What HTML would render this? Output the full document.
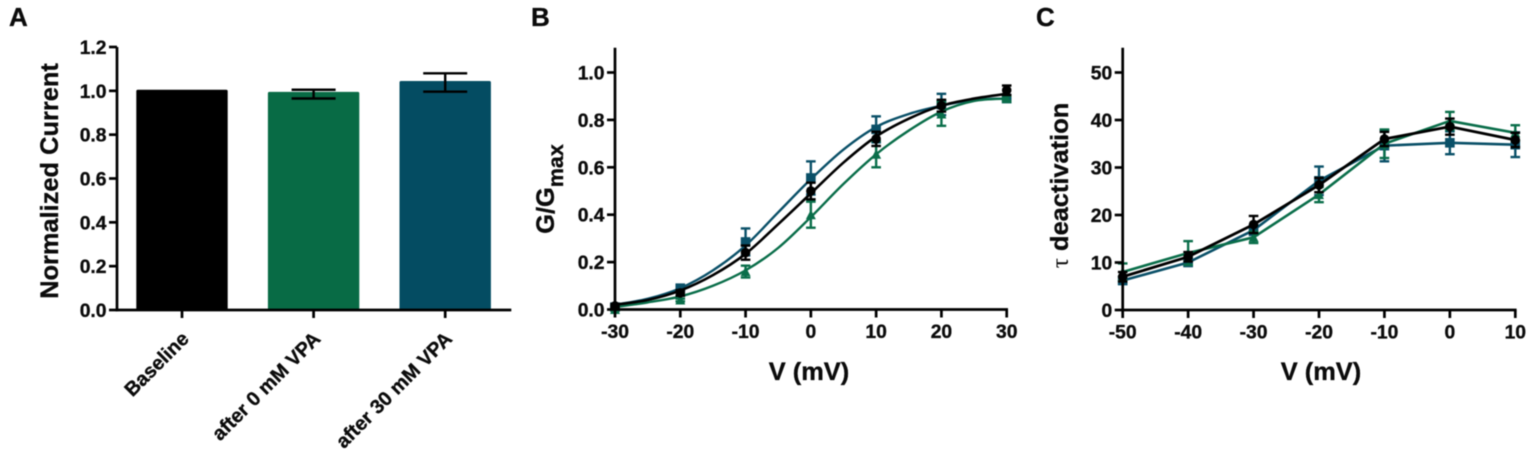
<!DOCTYPE html>
<html lang="en">
<head>
<meta charset="utf-8">
<title>VPA current, conductance and deactivation panels</title>
<style>
html,body{margin:0;padding:0;background:#fff;width:1535px;height:457px;overflow:hidden}
svg{display:block;filter:blur(0.45px)}
text{font-family:"Liberation Sans",Arial,sans-serif;font-weight:bold;fill:#0b0b0b;stroke:#0b0b0b;stroke-width:0.35px}
.tick{font-size:19.3px}
.title{font-size:25.4px}
.letter{font-size:26px}
.cat{font-size:19.8px}
</style>
</head>
<body>
<svg id="fig" xmlns="http://www.w3.org/2000/svg" width="1535" height="457" viewBox="0 0 1535 457">
  <text class="letter" x="9" y="26">A</text>
  <text class="letter" x="531" y="26">B</text>
  <text class="letter" x="1036" y="26">C</text>
  <text class="title" transform="translate(58 181) rotate(-90)" text-anchor="middle">Normalized Current</text>
  <text class="title" transform="translate(554 189) rotate(-90)" text-anchor="middle">G/G<tspan font-size="21.5" dy="9">max</tspan></text>
  <text class="title" x="809" y="380" text-anchor="middle">V (mV)</text>
  <text class="title" transform="translate(1068 185.5) rotate(-90)" text-anchor="middle"><tspan style="font-family:'Liberation Serif','DejaVu Serif',serif;font-weight:normal;stroke-width:0">τ</tspan> deactivation</text>
  <text class="title" x="1321" y="380" text-anchor="middle">V (mV)</text>
</svg>
<script>
// Panel A
const barCategories = ['Baseline', 'after 0 mM VPA', 'after 30 mM VPA'];
const barValues = [1.005, 0.995, 1.045];
const barCenters = [0.985, 0.985, 1.038];
const barErrors = [0, 0.02, 0.042];
const barColors = ['#000000', '#086b45', '#044c62'];
const aTicks = ['0.0', '0.2', '0.4', '0.6', '0.8', '1.0', '1.2'];

// Panel B
const bVoltages = [-30, -20, -10, 0, 10, 20, 30];
const bTicksY = ['0.0', '0.2', '0.4', '0.6', '0.8', '1.0'];
const bBlack = [0.015, 0.07, 0.24, 0.50, 0.72, 0.86, 0.925];
const bBlackErr = [0.008, 0.012, 0.03, 0.035, 0.03, 0.025, 0.02];
const bBlue = [0.01, 0.09, 0.285, 0.555, 0.76, 0.865, 0.89];
const bBlueErr = [0.006, 0.01, 0.057, 0.07, 0.055, 0.045, 0.01];
const bGreen = [0.0, 0.04, 0.16, 0.40, 0.655, 0.825, 0.89];
const bGreenErr = [0.004, 0.006, 0.025, 0.055, 0.055, 0.05, 0.01];
const bFitVoltages = [-30, -25, -20, -15, -10, -5, 0, 5, 10, 15, 20, 25, 30];
const bFitBlack = [0.02, 0.04, 0.08, 0.145, 0.235, 0.36, 0.49, 0.62, 0.73, 0.805, 0.86, 0.89, 0.91];
const bFitBlue = [0.02, 0.045, 0.09, 0.165, 0.27, 0.41, 0.55, 0.675, 0.77, 0.825, 0.86, 0.885, 0.89];
const bFitGreen = [0.01, 0.03, 0.055, 0.10, 0.165, 0.26, 0.39, 0.53, 0.655, 0.755, 0.835, 0.88, 0.89];

// Panel C
const cVoltages = [-50, -40, -30, -20, -10, 0, 10];
const cTicksY = ['0', '10', '20', '30', '40', '50'];
const cBlack = [7, 11.2, 18, 26.3, 36, 38.6, 35.8];
const cBlackErr = [1, 1, 1.8, 1.5, 1.5, 1.7, 1.5];
const cBlue = [6.2, 10, 16.8, 27.2, 34.6, 35.2, 34.8];
const cBlueErr = [0.7, 0.7, 1, 3, 3.3, 2.4, 2.6];
const cGreen = [8, 12, 15.3, 24.3, 35, 39.8, 37.3];
const cGreenErr = [1.8, 2.5, 1.2, 1.6, 3, 1.9, 1.6];

const GREEN = '#0a6e4a';
const BLUE = '#0a5068';
const INK = '#000000';
const NS = 'http://www.w3.org/2000/svg';
const fig = document.getElementById('fig');

function mk(tag, attrs, parent) {
  const el = document.createElementNS(NS, tag);
  for (const k in attrs) el.setAttribute(k, attrs[k]);
  (parent || fig).appendChild(el);
  return el;
}

function seg(x1, y1, x2, y2, w, col, name, parent) {
  const el = mk('line', {x1: x1, y1: y1, x2: x2, y2: y2, stroke: col, 'stroke-width': w}, parent);
  
  
  return el;
}

function label(cls, x, y, anchor, str, name, parent) {
  const el = mk('text', {class: cls, x: x, y: y, 'text-anchor': anchor}, parent);
  el.textContent = str;
  
  
  return el;
}

function group(name) {
  const g = mk('g', {});
  
  
  return g;
}

function smoothPath(pts) {
  let d = 'M' + pts[0][0] + ' ' + pts[0][1];
  for (let i = 0; i < pts.length - 1; i++) {
    const p0 = pts[Math.max(i - 1, 0)], p1 = pts[i], p2 = pts[i + 1], p3 = pts[Math.min(i + 2, pts.length - 1)];
    d += ' C' + (p1[0] + (p2[0] - p0[0]) / 6) + ' ' + (p1[1] + (p2[1] - p0[1]) / 6) + ' ' +
      (p2[0] - (p3[0] - p1[0]) / 6) + ' ' + (p2[1] - (p3[1] - p1[1]) / 6) + ' ' + p2[0] + ' ' + p2[1];
  }
  return d;
}

function marker(shape, x, y, col, name, parent) {
  let el;
  if (shape === 'square') {
    el = mk('rect', {x: x - 4.8, y: y - 4.8, width: 9.6, height: 9.6, fill: col}, parent);
  } else if (shape === 'triangle') {
    el = mk('polygon', {points: (x - 5) + ',' + (y + 4.5) + ' ' + (x + 5) + ',' + (y + 4.5) + ' ' + x + ',' + (y - 5), fill: col}, parent);
  } else {
    el = mk('circle', {cx: x, cy: y, r: 4.8, fill: col}, parent);
  }
  
  
}

function drawSeries(sx, sy, xs, ys, errs, col, shape, seriesName, fitXs, fitYs, lineWidth) {
  const g = group(seriesName);
  const pts = fitXs ? fitXs.map((v, i) => [sx(v), sy(fitYs[i])]) : xs.map((v, i) => [sx(v), sy(ys[i])]);
  const d = fitXs ? smoothPath(pts) : 'M' + pts.map(p => p.join(' ')).join(' L');
  const line = mk('path', {d: d, fill: 'none', stroke: col, 'stroke-width': lineWidth, 'stroke-linejoin': 'round'}, g);
  
  
  xs.forEach((v, i) => {
    const x = sx(v), hi = sy(ys[i] + errs[i]), lo = sy(ys[i] - errs[i]);
    seg(x, hi, x, lo, 2.4, col, seriesName + '-error-bar', g);
    seg(x - 4.8, hi, x + 4.8, hi, 2.4, col, seriesName + '-error-cap', g);
    seg(x - 4.8, lo, x + 4.8, lo, 2.4, col, seriesName + '-error-cap', g);
    marker(shape, x, sy(ys[i]), col, seriesName + '-point', g);
  });
}

function axes(prefix, x0, y0, xEnd, yTop, yTickVals, yTickLabels, sy, xTickVals, sx, xTickLabels) {
  const g = group(prefix + '-axes');
  seg(x0, yTop, x0, y0 + 1.3, 2.7, INK, prefix + '-y-axis', g);
  seg(x0 - 1.3, y0, xEnd + 1.3, y0, 2.7, INK, prefix + '-x-axis', g);
  yTickVals.forEach((v, i) => {
    seg(x0 - 8, sy(v), x0, sy(v), 2.7, INK, prefix + '-y-tick', g);
    label('tick', x0 - 10.5, sy(v) + 7, 'end', yTickLabels[i], prefix + '-y-tick-label', g);
  });
  xTickVals.forEach((v, i) => {
    seg(sx(v), y0, sx(v), y0 + 8, 2.7, INK, prefix + '-x-tick', g);
    if (xTickLabels) label('tick', sx(v), y0 + 28.6, 'middle', xTickLabels[i], prefix + '-x-tick-label', g);
  });
}

// --- Panel A ---
const aY0 = 310, aYTop = 47;
const aSy = v => aY0 - v / 1.2 * (aY0 - aYTop);
const aSx = i => 182 + i * 131.6;
const aBars = group('panel-a-bars');
barValues.forEach((v, i) => {
  const bar = mk('rect', {x: aSx(i) - 45.7, y: aSy(v), width: 91.4, height: aY0 - aSy(v), rx: 1.5, fill: barColors[i]}, aBars);
  
  
  if (barErrors[i] > 0) {
    const hi = aSy(barCenters[i] + barErrors[i]), lo = aSy(barCenters[i] - barErrors[i]);
    seg(aSx(i), hi, aSx(i), lo, 2.4, INK, 'bar-error-stem', aBars);
    seg(aSx(i) - 22, hi, aSx(i) + 22, hi, 2.4, INK, 'bar-error-cap', aBars);
    seg(aSx(i) - 22, lo, aSx(i) + 22, lo, 2.4, INK, 'bar-error-cap', aBars);
  }
  const cat = label('cat', aSx(i) + 8, 340, 'end', barCategories[i], 'category-label', aBars);
  cat.setAttribute('transform', 'rotate(-45 ' + (aSx(i) + 8) + ' 340)');
});
axes('panel-a', 117, aY0, 510, aYTop, aTicks.map(Number), aTicks, aSy, [0, 1, 2], aSx, null);

// --- Panel B ---
const bY0 = 309.5, bUnit = 237;
const bSy = v => bY0 - v * bUnit;
const bSx = v => 615 + (v + 30) / 60 * 391.7;
drawSeries(bSx, bSy, bVoltages, bBlue, bBlueErr, BLUE, 'square', 'panel-b-series-blue', bFitVoltages, bFitBlue, 2.4);
drawSeries(bSx, bSy, bVoltages, bGreen, bGreenErr, GREEN, 'triangle', 'panel-b-series-green', bFitVoltages, bFitGreen, 2.4);
drawSeries(bSx, bSy, bVoltages, bBlack, bBlackErr, INK, 'circle', 'panel-b-series-black', bFitVoltages, bFitBlack, 2.6);
axes('panel-b', 615, bY0, 1006.7, 47.7, bTicksY.map(Number), bTicksY, bSy, bVoltages, bSx, bVoltages);

// --- Panel C ---
const cY0 = 310, cUnit = 4.75;
const cSy = v => cY0 - v * cUnit;
const cSx = v => 1122.7 + (v + 50) / 60 * 392.6;
drawSeries(cSx, cSy, cVoltages, cBlue, cBlueErr, BLUE, 'square', 'panel-c-series-blue', null, null, 2.6);
drawSeries(cSx, cSy, cVoltages, cGreen, cGreenErr, GREEN, 'triangle', 'panel-c-series-green', null, null, 2.6);
drawSeries(cSx, cSy, cVoltages, cBlack, cBlackErr, INK, 'circle', 'panel-c-series-black', null, null, 2.8);
axes('panel-c', 1122.7, cY0, 1515.3, 47.7, cTicksY.map(Number), cTicksY, cSy, cVoltages, cSx, cVoltages);
</script>
</body>
</html>
